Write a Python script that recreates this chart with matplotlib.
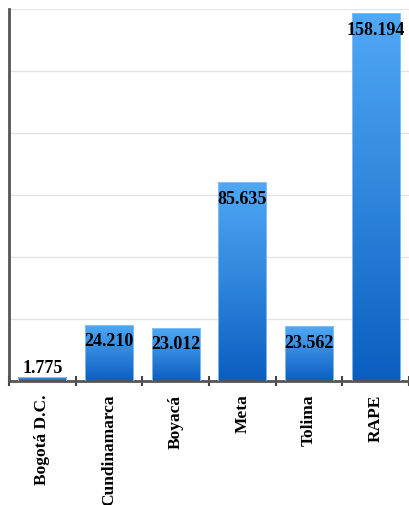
import numpy as np
import matplotlib.pyplot as plt
from matplotlib.colors import LinearSegmentedColormap

# data
categories = ["Bogotá D.C.", "Cundinamarca", "Boyacá", "Meta", "Tolima", "RAPE"]
values = [1.775, 24.210, 23.012, 85.635, 23.562, 158.194]
value_labels = ["1.775", "24.210", "23.012", "85.635", "23.562", "158.194"]

plt.rcParams['font.family'] = ['Liberation Serif', 'DejaVu Serif']

fig = plt.figure(figsize=(4.09, 5.06), dpi=100)
ax = fig.add_axes([0.022, 0.245, 0.978, 0.735])

x = np.arange(len(categories))
bars = ax.bar(x, values, width=0.72, color='none', edgecolor='#8cc4f5', linewidth=0.6, zorder=3)

# vertical gradient in each bar: light at top, dark at bottom
cmap = LinearSegmentedColormap.from_list("blues", ["#0a5ec0", "#2f86dc", "#50a8f6"])
grad = np.linspace(0, 1, 256).reshape(-1, 1)
for b in bars:
    x0, y0 = b.get_x(), b.get_y()
    w, h = b.get_width(), b.get_height()
    im = ax.imshow(grad, cmap=cmap, origin='lower', aspect='auto',
                   extent=[x0, x0 + w, y0, y0 + h], zorder=2)
    im.set_clip_path(b)

ymax = 160
ax.set_xlim(-0.5, len(categories) - 0.5)
ax.set_ylim(0, ymax)
ax.set_yticks(np.linspace(0, ymax, 7))
ax.yaxis.grid(True, color='#e4e4e4', linewidth=1, zorder=0)
ax.set_axisbelow(True)
ax.tick_params(axis='y', length=0, labelleft=False)

# category labels, rotated
ax.set_xticks(x)
ax.set_xticklabels(categories, rotation=90, fontsize=12.5, fontweight='bold', va='top')
ax.tick_params(axis='x', length=0, pad=9)
ax.set_xticks(np.arange(len(categories) + 1) - 0.5, minor=True)
ax.tick_params(axis='x', which='minor', direction='inout', length=7, width=1.5, color='#444444')

for s in ['top', 'right']:
    ax.spines[s].set_visible(False)
for s in ['left', 'bottom']:
    ax.spines[s].set_color('#555555')
    ax.spines[s].set_linewidth(2)

# value labels
for xi, v, lab in zip(x, values, value_labels):
    if v / ymax * 372 > 30:
        ax.annotate(lab, (xi, v), xytext=(0, -5.5), textcoords='offset points',
                    ha='center', va='top', fontsize=13, fontweight='bold', zorder=5)
    else:
        ax.annotate(lab, (xi, v), xytext=(0, 1), textcoords='offset points',
                    ha='center', va='bottom', fontsize=13, fontweight='bold', zorder=5)

fig.savefig("out.png", dpi=100)
